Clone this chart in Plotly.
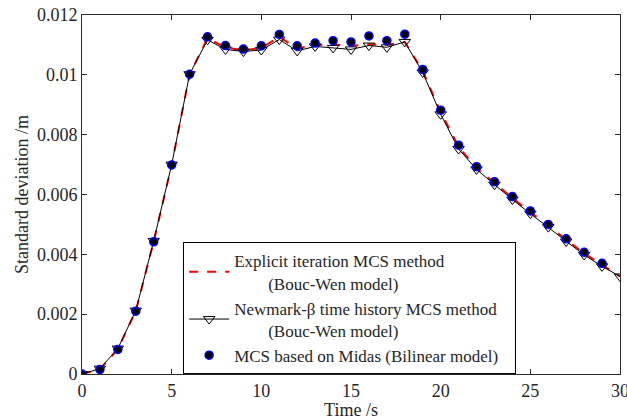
import plotly.graph_objects as go

# Time axis (s)
time_s = list(range(0, 31))

# Standard deviation of displacement, in units of 1e-3 m
explicit_mcs = [0.0, 0.16, 0.83, 2.11, 4.43, 6.99, 10.02, 11.22, 10.92, 10.82, 10.90,
                11.27, 10.88, 11.00, 11.02, 10.97, 11.02, 11.00, 11.10, 10.13, 8.76,
                7.59, 6.89, 6.38, 5.88, 5.41, 4.96, 4.48, 4.03, 3.65, 3.26]
newmark_mcs = [0.0, 0.18, 0.85, 2.12, 4.45, 7.00, 10.02, 11.17, 10.85, 10.78, 10.83,
               11.18, 10.80, 10.95, 10.90, 10.85, 10.98, 10.92, 11.10, 10.08, 8.68,
               7.52, 6.84, 6.33, 5.83, 5.36, 4.91, 4.43, 3.98, 3.60, 3.26]
midas_time_s = list(range(0, 30))
midas_mcs = [0.0, 0.15, 0.82, 2.10, 4.42, 6.99, 10.02, 11.27, 10.98, 10.86, 10.97,
             11.35, 10.97, 11.06, 11.14, 11.10, 11.30, 11.14, 11.36, 10.18, 8.82,
             7.65, 6.93, 6.43, 5.93, 5.45, 5.00, 4.52, 4.07, 3.70]

y_tick_vals = [0, 0.002, 0.004, 0.006, 0.008, 0.01, 0.012]
y_tick_text = ["0", "0.002", "0.004", "0.006", "0.008", "0.01", "0.012"]
x_tick_vals = [0, 5, 10, 15, 20, 25, 30]

def to_m(vals):
    return [v * 1e-3 for v in vals]

FONT = "Liberation Serif"
FONT_SIZE = 18
LEGEND_FONT_SIZE = 17
TEXT_COLOR = "#262626"
AXIS_COLOR = "#2b2b2b"
INDENT = "\u00a0" * 8
PAD = "\u00a0" * 3

fig = go.Figure()

fig.add_trace(go.Scatter(
    x=time_s, y=to_m(explicit_mcs), mode="lines",
    name="Explicit iteration MCS method<br>" + INDENT + "(Bouc-Wen model)",
    line=dict(color="#ff0000", width=2, dash="dash"),
))
fig.add_trace(go.Scatter(
    x=time_s, y=to_m(newmark_mcs), mode="lines+markers",
    name="Newmark-β time history MCS method" + PAD + "<br>" + INDENT + "(Bouc-Wen model)",
    line=dict(color="#000000", width=1),
    marker=dict(symbol="triangle-down-open", size=10, color="#000000",
                line=dict(width=1)),
))
fig.add_trace(go.Scatter(
    x=midas_time_s, y=to_m(midas_mcs), mode="markers",
    name="MCS based on Midas (Bilinear model)",
    marker=dict(symbol="circle", size=8, color="#000000",
                line=dict(color="#0000ff", width=1.5)),
))

axis_common = dict(
    showline=True, linecolor=AXIS_COLOR, linewidth=1, mirror="ticks",
    ticks="inside", ticklen=5, tickcolor=AXIS_COLOR, tickwidth=1,
    showgrid=False, zeroline=False, ticklabeloverflow="allow",
    automargin=False,
    tickfont=dict(family=FONT, size=FONT_SIZE, color=TEXT_COLOR),
)

fig.update_layout(
    width=627, height=420,
    margin=dict(l=82, r=7, t=15, b=46),
    paper_bgcolor="white", plot_bgcolor="white",
    font=dict(family=FONT, size=FONT_SIZE, color=TEXT_COLOR),
    showlegend=True,
    legend=dict(
        x=0.188, y=0.367, xanchor="left", yanchor="top",
        bgcolor="white", bordercolor="#000000", borderwidth=1,
        font=dict(family=FONT, size=LEGEND_FONT_SIZE, color=TEXT_COLOR),
        tracegroupgap=0, itemwidth=40,
    ),
    xaxis=dict(range=[0, 30], tickvals=x_tick_vals,
               title=dict(text="Time /s", standoff=3,
                          font=dict(family=FONT, size=FONT_SIZE)),
               **axis_common),
    yaxis=dict(range=[0, 0.012], tickvals=y_tick_vals, ticktext=y_tick_text,
               title=dict(text="Standard deviation /m", standoff=3,
                          font=dict(family=FONT, size=FONT_SIZE)),
               **axis_common),
)

fig.write_html("out.html")
